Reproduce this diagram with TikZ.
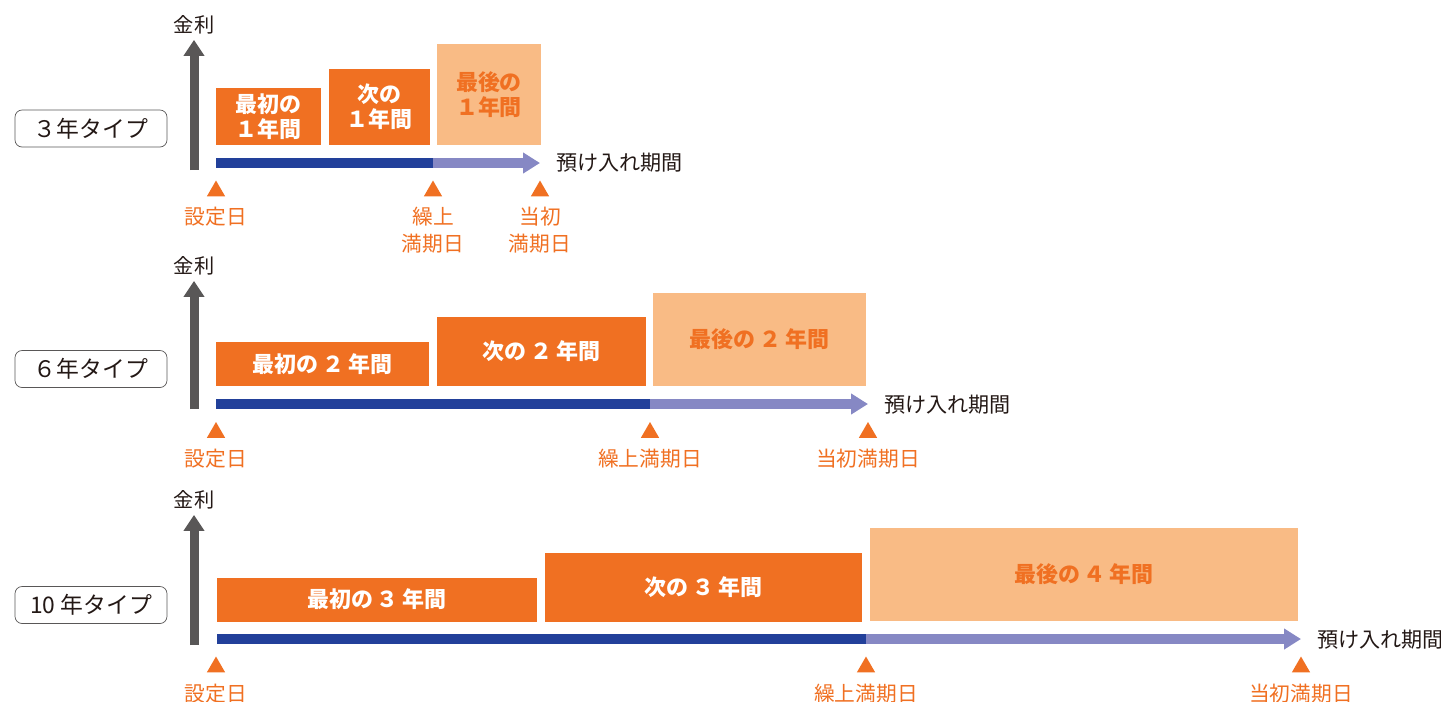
\documentclass[tikz,border=0pt]{standalone}
\usepackage{fontspec}
\setmainfont{Noto Sans CJK JP}
\usepackage{tikz}
\usetikzlibrary{arrows.meta,shapes.geometric}

\definecolor{rateorange}{HTML}{F07022}
\definecolor{ratelight}{HTML}{F9BB85}
\definecolor{barnavy}{HTML}{22409A}
\definecolor{barlilac}{HTML}{8688C4}
\definecolor{axisgray}{HTML}{595757}
\definecolor{txtblack}{HTML}{231815}

\tikzset{
  typebox/.style={draw=axisgray, rounded corners=4pt, minimum width=3.04cm,
    minimum height=0.74cm, inner sep=0pt, text=txtblack,
    font=\fontsize{13}{15}\selectfont},
  ratebox/.style={fill=rateorange, text=white, inner sep=0pt, align=center,
    font=\bfseries\fontsize{12.5}{14.2}\selectfont},
  lastbox/.style={ratebox, fill=ratelight, text=rateorange},
  axislabel/.style={text=txtblack, inner sep=3pt, font=\fontsize{11.5}{13}\selectfont},
  axisarrow/.style={draw=axisgray, line width=0.18cm,
    -{Triangle[length=0.32cm,width=0.4cm]}},
  darkbar/.style={draw=barnavy, line width=0.2cm},
  lightbar/.style={draw=barlilac, line width=0.2cm,
    -{Triangle[length=0.34cm,width=0.4cm]}},
  datemark/.style={regular polygon, regular polygon sides=3, fill=rateorange,
    inner sep=0pt, minimum size=0.42cm},
  datelabel/.style={text=rateorange, align=center, font=\fontsize{11.8}{15.3}\selectfont},
  periodlabel/.style={text=txtblack, anchor=west, font=\fontsize{12}{14}\selectfont},
}

\begin{document}
\begin{tikzpicture}[x=0.02cm, y=-0.02cm]
    \useasboundingbox (0,0) rectangle (1441,701);

    % 3 year type
    \node[typebox] (type3) at (91,128.5) {３年タイプ};
    \node[axislabel] (rate3) at (194,25) {金利};
    \coordinate (base3) at (194,170);
    \draw[axisarrow] (base3) -- (base3 |- rate3.south);
    \node[ratebox, minimum width=2.1cm, minimum height=1.14cm] (first3) at (268.5,116.5) {最初の\\１年間};
    \node[ratebox, minimum width=2.02cm, minimum height=1.52cm] (next3) at (379.5,107) {次の\\１年間};
    \node[lastbox, minimum width=2.08cm, minimum height=2.02cm] (last3) at (489,94.5) {最後の\\１年間};
    \coordinate (start3) at (216,163);
    \coordinate (split3) at (433,163);
    \coordinate (end3) at (540,163);
    \draw[darkbar] (start3) -- (split3);
    \draw[lightbar] (split3) -- (end3);
    \node[periodlabel] (period3) at (550,163) {預け入れ期間};
    \node[datemark] (mset3) at (216,191) {};
    \node[datemark] (mearly3) at (433,191) {};
    \node[datemark] (morig3) at (540,191) {};
    \node[datelabel] (set3) at (216,217) {設定日};
    \node[datelabel] (early3) at (433,230) {繰上\\満期日};
    \node[datelabel] (orig3) at (540,230) {当初\\満期日};

    % 6 year type
    \node[typebox] (type6) at (91,369) {６年タイプ};
    \node[axislabel] (rate6) at (194,266) {金利};
    \coordinate (base6) at (194,409);
    \draw[axisarrow] (base6) -- (base6 |- rate6.south);
    \node[ratebox, minimum width=4.26cm, minimum height=0.88cm] (first6) at (322.5,364) {最初の\,２\,年間};
    \node[ratebox, minimum width=4.18cm, minimum height=1.38cm] (next6) at (541.5,351.5) {次の\,２\,年間};
    \node[lastbox, minimum width=4.26cm, minimum height=1.86cm] (last6) at (759.5,339.5) {最後の\,２\,年間};
    \coordinate (start6) at (216,404);
    \coordinate (split6) at (650,404);
    \coordinate (end6) at (868,404);
    \draw[darkbar] (start6) -- (split6);
    \draw[lightbar] (split6) -- (end6);
    \node[periodlabel] (period6) at (878,405) {預け入れ期間};
    \node[datemark] (mset6) at (216,432.5) {};
    \node[datemark] (mearly6) at (650,432.5) {};
    \node[datemark] (morig6) at (868,432.5) {};
    \node[datelabel] (set6) at (216,459) {設定日};
    \node[datelabel] (early6) at (650,459) {繰上満期日};
    \node[datelabel] (orig6) at (868,459) {当初満期日};

    % 10 year type
    \node[typebox] (type10) at (91,605) {10 年タイプ};
    \node[axislabel] (rate10) at (194,500) {金利};
    \coordinate (base10) at (194,645);
    \draw[axisarrow] (base10) -- (base10 |- rate10.south);
    \node[ratebox, minimum width=6.4cm, minimum height=0.88cm] (first10) at (377,599.5) {最初の\,３\,年間};
    \node[ratebox, minimum width=6.34cm, minimum height=1.38cm] (next10) at (703.5,587) {次の\,３\,年間};
    \node[lastbox, minimum width=8.56cm, minimum height=1.86cm] (last10) at (1084,574.5) {最後の\,４\,年間};
    \coordinate (start10) at (217,639);
    \coordinate (split10) at (866,639);
    \coordinate (end10) at (1301,639);
    \draw[darkbar] (start10) -- (split10);
    \draw[lightbar] (split10) -- (end10);
    \node[periodlabel] (period10) at (1311,640) {預け入れ期間};
    \node[datemark] (mset10) at (216,667) {};
    \node[datemark] (mearly10) at (866,667) {};
    \node[datemark] (morig10) at (1301,667) {};
    \node[datelabel] (set10) at (216,694) {設定日};
    \node[datelabel] (early10) at (866,694) {繰上満期日};
    \node[datelabel] (orig10) at (1301,694) {当初満期日};
\end{tikzpicture}
\end{document}
